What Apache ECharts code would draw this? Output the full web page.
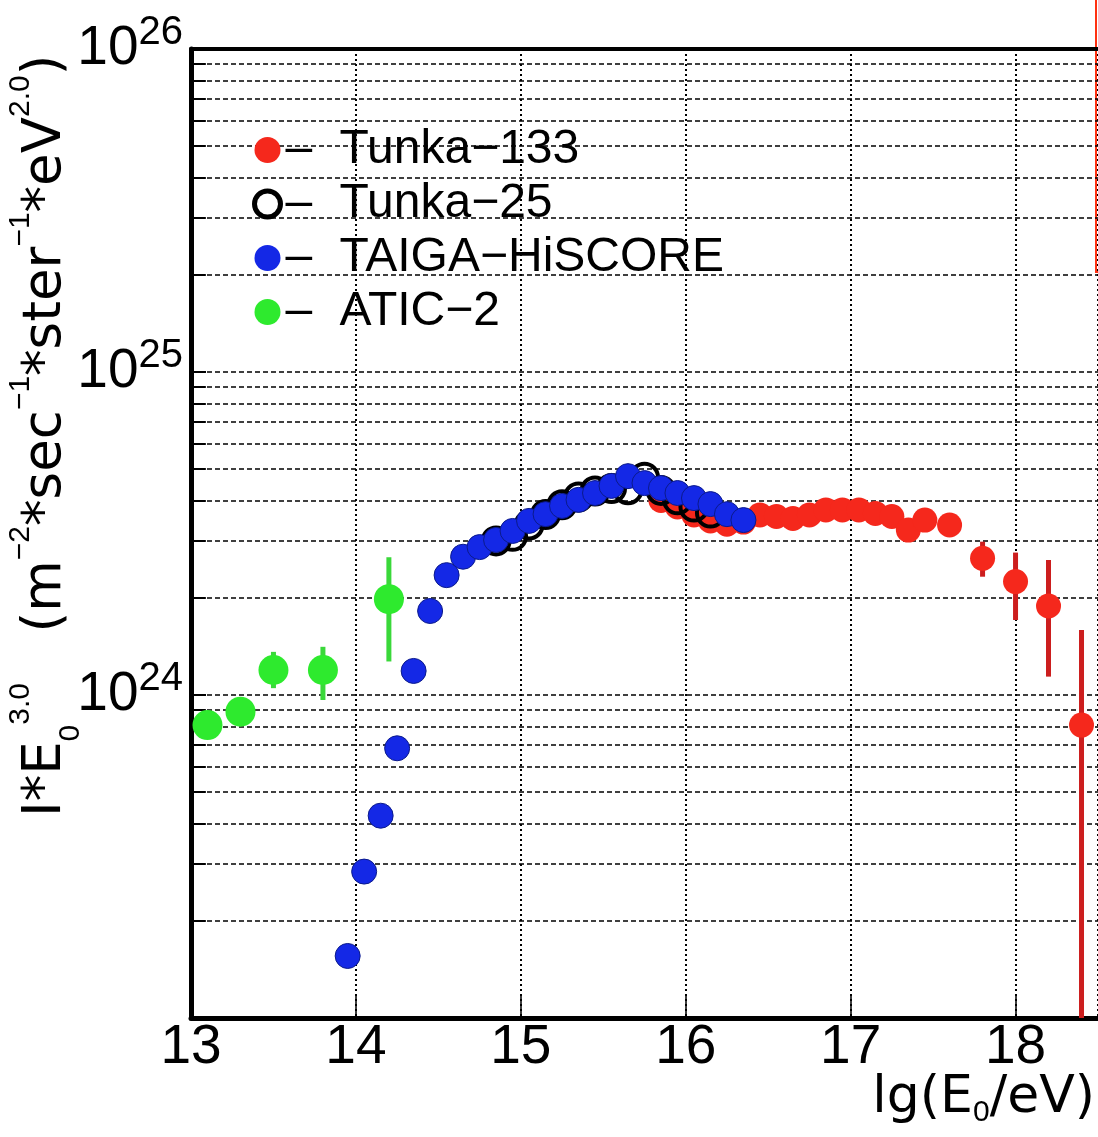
<!DOCTYPE html>
<html><head><meta charset="utf-8">
<script src="https://cdn.jsdelivr.net/npm/echarts@6/dist/echarts.min.js"></script>
<style>html,body{margin:0;padding:0;background:#fff}#c{width:1098px;height:1137px}</style>
</head><body><div id="c"></div>
<script>
// ---------- data (lg(E0/eV), I*E0^3 ) ----------
const tunka133X = [15.85, 15.95, 16.05, 16.15, 16.25, 16.35, 16.45, 16.55, 16.65, 16.75, 16.85, 16.95, 17.05, 17.15, 17.25, 17.35, 17.45, 17.6, 17.8, 18.0, 18.2, 18.4];
const tunka133Y = [4.0e24, 3.82e24, 3.61e24, 3.46e24, 3.38e24, 3.43e24, 3.61e24, 3.57e24, 3.52e24, 3.61e24, 3.74e24, 3.74e24, 3.74e24, 3.65e24, 3.57e24, 3.24e24, 3.48e24, 3.36e24, 2.65e24, 2.245e24, 1.886e24, 8.07e23];
const tunka133Lo = [null, null, null, null, null, null, null, null, null, null, null, null, null, null, null, null, null, null, 2.324e24, 1.707e24, 1.14e24, 1e22];
const tunka133Hi = [null, null, null, null, null, null, null, null, null, null, null, null, null, null, null, null, null, null, 2.983e24, 2.76e24, 2.618e24, 1.589e24];

const tunka25X = [14.85, 14.95, 15.05, 15.15, 15.25, 15.35, 15.45, 15.55, 15.65, 15.75, 15.85, 15.95, 16.05, 16.15];
const tunka25Y = [3.0e24, 3.1e24, 3.36e24, 3.62e24, 3.88e24, 4.1e24, 4.28e24, 4.36e24, 4.32e24, 4.72e24, 4.3e24, 4.02e24, 3.82e24, 3.66e24];

const hiscoreX = [13.95, 14.05, 14.15, 14.25, 14.35, 14.45, 14.55, 14.65, 14.75, 14.85, 14.95, 15.05, 15.15, 15.25, 15.35, 15.45, 15.55, 15.65, 15.75, 15.85, 15.95, 16.05, 16.15, 16.25, 16.35];
const hiscoreY = [1.556e23, 2.84e23, 4.23e23, 6.84e23, 1.187e24, 1.82e24, 2.35e24, 2.68e24, 2.87e24, 3.02e24, 3.22e24, 3.46e24, 3.63e24, 3.85e24, 4.02e24, 4.22e24, 4.44e24, 4.76e24, 4.53e24, 4.37e24, 4.22e24, 4.07e24, 3.90e24, 3.63e24, 3.48e24];

const atic2X = [13.1, 13.3, 13.5, 13.8, 14.2];
const atic2Y = [8.07e23, 8.88e23, 1.195e24, 1.195e24, 1.98e24];
const atic2Lo = [null, null, 1.05e24, 9.65e23, 1.27e24];
const atic2Hi = [null, null, 1.36e24, 1.41e24, 2.67e24];

const seriesNames = ['Tunka\u2212133', 'Tunka\u221225', 'TAIGA\u2212HiSCORE', 'ATIC\u22122'];
const xTickLabels = ['13', '14', '15', '16', '17', '18'];
const minorGridValues = [2e23, 3e23, 4e23, 5e23, 6e23, 7e23, 8e23, 9e23,
                         2e24, 3e24, 4e24, 5e24, 6e24, 7e24, 8e24, 9e24,
                         2e25, 3e25, 4e25, 5e25, 6e25, 7e25, 8e25, 9e25];

// ---------- styles ----------
const RED = '#f5281c', RED_ERR = '#cc1e1e', BLUE = '#1428e6', GREEN = '#2eea2e', GREEN_ERR = '#3ad83a';
const LS = 'Liberation Sans, Arial, sans-serif';
const DV = 'DejaVu Sans, sans-serif';
const X_MIN = 13, X_MAX = 18.5;

const zip = (xs, ys) => xs.map((x, i) => [x, ys[i]]);
const errData = (xs, lo, hi) => xs.map((x, i) => lo[i] == null ? null : [x, lo[i], hi[i]]).filter(d => d);

function errorSeries(name, data, color, width) {
  return {
    type: 'custom', name: name + ' err', data: data, clip: true, z: 2, silent: true,
    encode: { x: 0, y: [1, 2] },
    renderItem: function (params, api) {
      const p1 = api.coord([api.value(0), api.value(1)]);
      const p2 = api.coord([api.value(0), api.value(2)]);
      return { type: 'line', shape: { x1: p1[0], y1: p1[1], x2: p2[0], y2: p2[1] }, style: { stroke: color, lineWidth: width } };
    }
  };
}

const gridSeries = {
  type: 'scatter', name: 'grid', data: [], silent: true,
  markLine: {
    silent: true, symbol: 'none', z: 1, animation: false,
    label: { show: false },
    lineStyle: { color: '#000', width: 1.5, type: [5, 3] },
    emphasis: { disabled: true },
    data: minorGridValues.map(v => ({ yAxis: v }))
      .concat(minorGridValues.map(v => [
        { coord: [X_MIN, v], lineStyle: { type: 'solid', width: 2, color: '#000' } },
        { coord: [X_MIN + 0.09, v] }
      ]))
  }
};

const option = {
  animation: false,
  backgroundColor: '#fff',
  grid: { left: 191, right: -6, top: 49, bottom: 119, containLabel: false },
  xAxis: [{
    type: 'value', min: X_MIN, max: X_MAX, interval: 1,
    axisLine: { onZero: false, lineStyle: { color: '#000', width: 5 } },
    axisTick: { inside: true, length: 22, lineStyle: { color: '#000', width: 1.5 } },
    axisLabel: {
      fontFamily: LS, fontSize: 55, color: '#000', margin: 2, showMaxLabel: false,
      formatter: v => { const i = Math.round(v) - 13; return (Math.abs(v - Math.round(v)) < 1e-6 && xTickLabels[i]) ? xTickLabels[i] : ''; }
    },
    splitLine: { show: true, lineStyle: { color: '#000', width: 2, type: [2, 3] } }
  }, {
    type: 'value', position: 'top', min: X_MIN, max: X_MAX,
    axisLine: { onZero: false, lineStyle: { color: '#000', width: 4 } },
    axisTick: { show: false }, axisLabel: { show: false }, splitLine: { show: false }
  }],
  yAxis: {
    type: 'log', logBase: 10, min: 1e23, max: 1e26,
    axisLine: { show: true, onZero: false, lineStyle: { color: '#000', width: 5 } },
    axisTick: { show: true, inside: true, length: 15, lineStyle: { color: '#000', width: 2 } },
    axisLabel: {
      margin: 8,
      formatter: v => { const e = Math.round(Math.log10(v)); return e <= 23 ? '' : '{b|10}{s|' + e + '}'; },
      rich: {
        b: { fontFamily: LS, fontSize: 55, lineHeight: 72, verticalAlign: 'middle', color: '#000' },
        s: { fontFamily: LS, fontSize: 40, lineHeight: 30, verticalAlign: 'top', color: '#000' }
      }
    },
    splitLine: { show: true, lineStyle: { color: '#000', width: 1.5, type: [5, 3] } }
  },
  legend: {
    orient: 'vertical', left: 252, top: 123, padding: 0, itemGap: 0, itemWidth: 26, itemHeight: 26,
    selectedMode: false,
    textStyle: {
      fontFamily: LS, fontSize: 48, color: '#000', lineHeight: 54,
      rich: {
        d: { fontFamily: LS, fontSize: 48, lineHeight: 54, width: 54, color: '#000' },
        n: { fontFamily: LS, fontSize: 48, lineHeight: 54, color: '#000' }
      }
    },
    formatter: name => '{d|\u2013}{n|' + name + '}',
    data: [
      { name: seriesNames[0], icon: 'circle', itemStyle: { color: RED, borderWidth: 0 } },
      { name: seriesNames[1], icon: 'circle', itemStyle: { color: '#fff', borderColor: '#000', borderWidth: 5 } },
      { name: seriesNames[2], icon: 'circle', itemStyle: { color: BLUE, borderWidth: 0 } },
      { name: seriesNames[3], icon: 'circle', itemStyle: { color: GREEN, borderWidth: 0 } }
    ]
  },
  graphic: [
    {
      type: 'text', x: 46, y: 817, rotation: Math.PI / 2, silent: true, z: 10,
      style: {
        text: '{b|I*E}{sub|0}{sup|3.0}{b|   (m}{sup|\u22122}{b|*sec}{sup|\u22121}{b|*ster}{sup|\u22121}{b|*eV}{sup|2.0}{b|)}',
        align: 'left', verticalAlign: 'middle', fill: '#000',
        rich: {
          b: { fontFamily: DV, fontSize: 53, lineHeight: 80, verticalAlign: 'middle', fill: '#000' },
          sup: { fontFamily: LS, fontSize: 30, lineHeight: 40, verticalAlign: 'top', fill: '#000' },
          sub: { fontFamily: LS, fontSize: 30, lineHeight: 48, verticalAlign: 'bottom', fill: '#000' }
        }
      }
    },
    {
      type: 'text', x: 1095, y: 1098, silent: true, z: 10,
      style: {
        text: '{b|lg(E}{sub|0}{b|/eV)}',
        align: 'right', verticalAlign: 'middle', fill: '#000',
        rich: {
          b: { fontFamily: DV, fontSize: 52, lineHeight: 60, verticalAlign: 'middle', fill: '#000' },
          sub: { fontFamily: LS, fontSize: 30, lineHeight: 26, verticalAlign: 'bottom', fill: '#000' }
        }
      }
    },
    {
      type: 'rect', silent: true, z: 0,
      shape: { x: 1096, y: -5, width: 30, height: 277 },
      style: { fill: 'none', stroke: '#ff3010', lineWidth: 2 }
    }
  ],
  series: [
    gridSeries,
    errorSeries(seriesNames[0], errData(tunka133X, tunka133Lo, tunka133Hi), RED_ERR, 5),
    {
      type: 'scatter', name: seriesNames[0], data: zip(tunka133X, tunka133Y), z: 3,
      symbol: 'circle', symbolSize: 25, itemStyle: { color: RED, opacity: 1 }
    },
    {
      type: 'scatter', name: seriesNames[1], data: zip(tunka25X, tunka25Y), z: 4,
      symbol: 'circle', symbolSize: 27, itemStyle: { color: 'rgba(255,255,255,0)', borderColor: '#000', borderWidth: 4, opacity: 1 }
    },
    {
      type: 'scatter', name: seriesNames[2], data: zip(hiscoreX, hiscoreY), z: 5,
      symbol: 'circle', symbolSize: 25, itemStyle: { color: BLUE, borderColor: '#0b1a8c', borderWidth: 1, opacity: 1 }
    },
    errorSeries(seriesNames[3], errData(atic2X, atic2Lo, atic2Hi), GREEN_ERR, 5),
    {
      type: 'scatter', name: seriesNames[3], data: zip(atic2X, atic2Y), z: 6,
      symbol: 'circle', symbolSize: 30, itemStyle: { color: GREEN, opacity: 1 }
    }
  ]
};

const chart = echarts.init(document.getElementById('c'), null, { renderer: 'canvas' });
chart.setOption(option);
</script>
</body></html>
